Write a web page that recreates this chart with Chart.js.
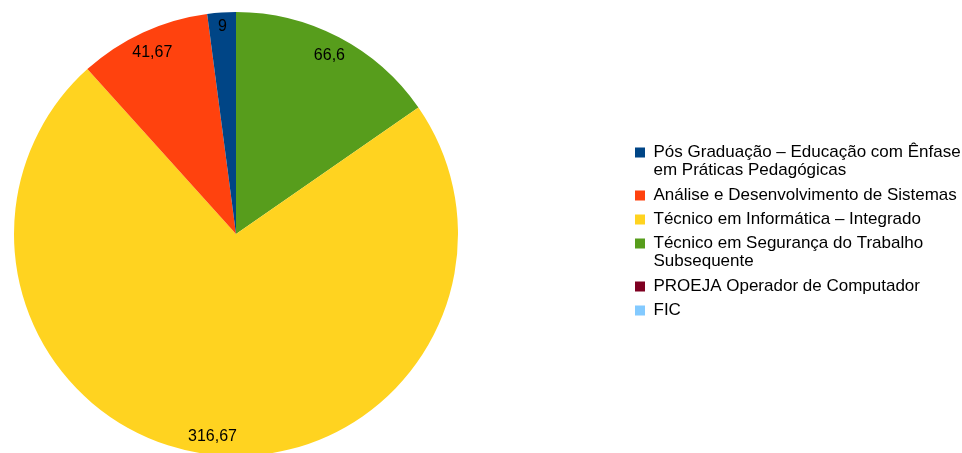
<!DOCTYPE html>
<html>
<head>
<meta charset="utf-8">
<script src="https://cdn.jsdelivr.net/npm/chart.js@4.4.1/dist/chart.umd.min.js"></script>
<style>
  html, body { margin: 0; padding: 0; background: #fff; overflow: hidden; }
  canvas { display: block; }
</style>
</head>
<body>
<canvas id="myChart" width="962" height="453"></canvas>
<script>
// dados do gráfico (ordem da legenda)
var categories = [
    ['Pós Graduação – Educação com Ênfase', 'em Práticas Pedagógicas'],
    'Análise e Desenvolvimento de Sistemas',
    'Técnico em Informática – Integrado',
    ['Técnico em Segurança do Trabalho', 'Subsequente'],
    'PROEJA Operador de Computador',
    'FIC'
];
var values = [9, 41.67, 316.67, 66.6, 0, 0];
var colors = ['#004586', '#ff420e', '#ffd320', '#579d1c', '#7e0021', '#83caff'];

// o LibreOffice desenha no sentido anti-horário, o Chart.js no horário
var labels_r = categories.slice().reverse();
var values_r = values.slice().reverse();
var colors_r = colors.slice().reverse();

var FONT = 'Liberation Sans, Arial, sans-serif';

// pizza à esquerda, legenda à direita (como no original)
var placeBoxes = {
    id: 'placeBoxes',
    afterLayout: function(chart) {
        var a = chart.chartArea;
        a.left = 14; a.right = 458;
        a.top = 12; a.bottom = 456;
        a.width = a.right - a.left;
        a.height = a.bottom - a.top;
        var lg = chart.legend;
        var w = lg.right - lg.left;
        lg.left = 628;
        lg.right = lg.left + w;
        lg.top += 5;
        lg.bottom += 5;
    }
};

// rótulos dentro da fatia, perto da borda
var sliceLabels = {
    id: 'sliceLabels',
    afterDatasetsDraw: function(chart) {
        var ctx = chart.ctx;
        var meta = chart.getDatasetMeta(0);
        ctx.save();
        ctx.font = '16px ' + FONT;
        ctx.fillStyle = '#000';
        ctx.textAlign = 'center';
        ctx.textBaseline = 'middle';
        meta.data.forEach(function(arc, i) {
            var v = values_r[i];
            if (!v) return;
            var txt = String(v).replace('.', ',');
            var mid = (arc.startAngle + arc.endAngle) / 2;
            var ux = Math.cos(mid), uy = Math.sin(mid);
            var ex = (ux < 0 ? -1 : 1) * ctx.measureText(txt).width / 2;
            var ey = (uy < 0 ? -1 : 1) * 8;
            var R0 = arc.outerRadius - 6;
            var ue = ux * ex + uy * ey;
            var d = -ue + Math.sqrt(ue * ue - (ex * ex + ey * ey) + R0 * R0);
            ctx.fillText(txt, arc.x + ux * d, arc.y + uy * d);
        });
        ctx.restore();
    }
};

new Chart('myChart', {
    type: 'pie',
    data: {
        labels: labels_r,
        datasets: [{
            data: values_r,
            backgroundColor: colors_r,
            borderWidth: 0
        }]
    },
    options: {
        responsive: false,
        animation: false,
        plugins: {
            tooltip: { enabled: false },
            legend: {
                position: 'right',
                labels: {
                    boxWidth: 10,
                    boxHeight: 10,
                    padding: 7,
                    color: '#000',
                    font: { family: FONT, size: 17, lineHeight: 1.06 },
                    sort: function(a, b) { return b.index - a.index; }
                }
            }
        }
    },
    plugins: [placeBoxes, sliceLabels]
});
</script>
</body>
</html>
